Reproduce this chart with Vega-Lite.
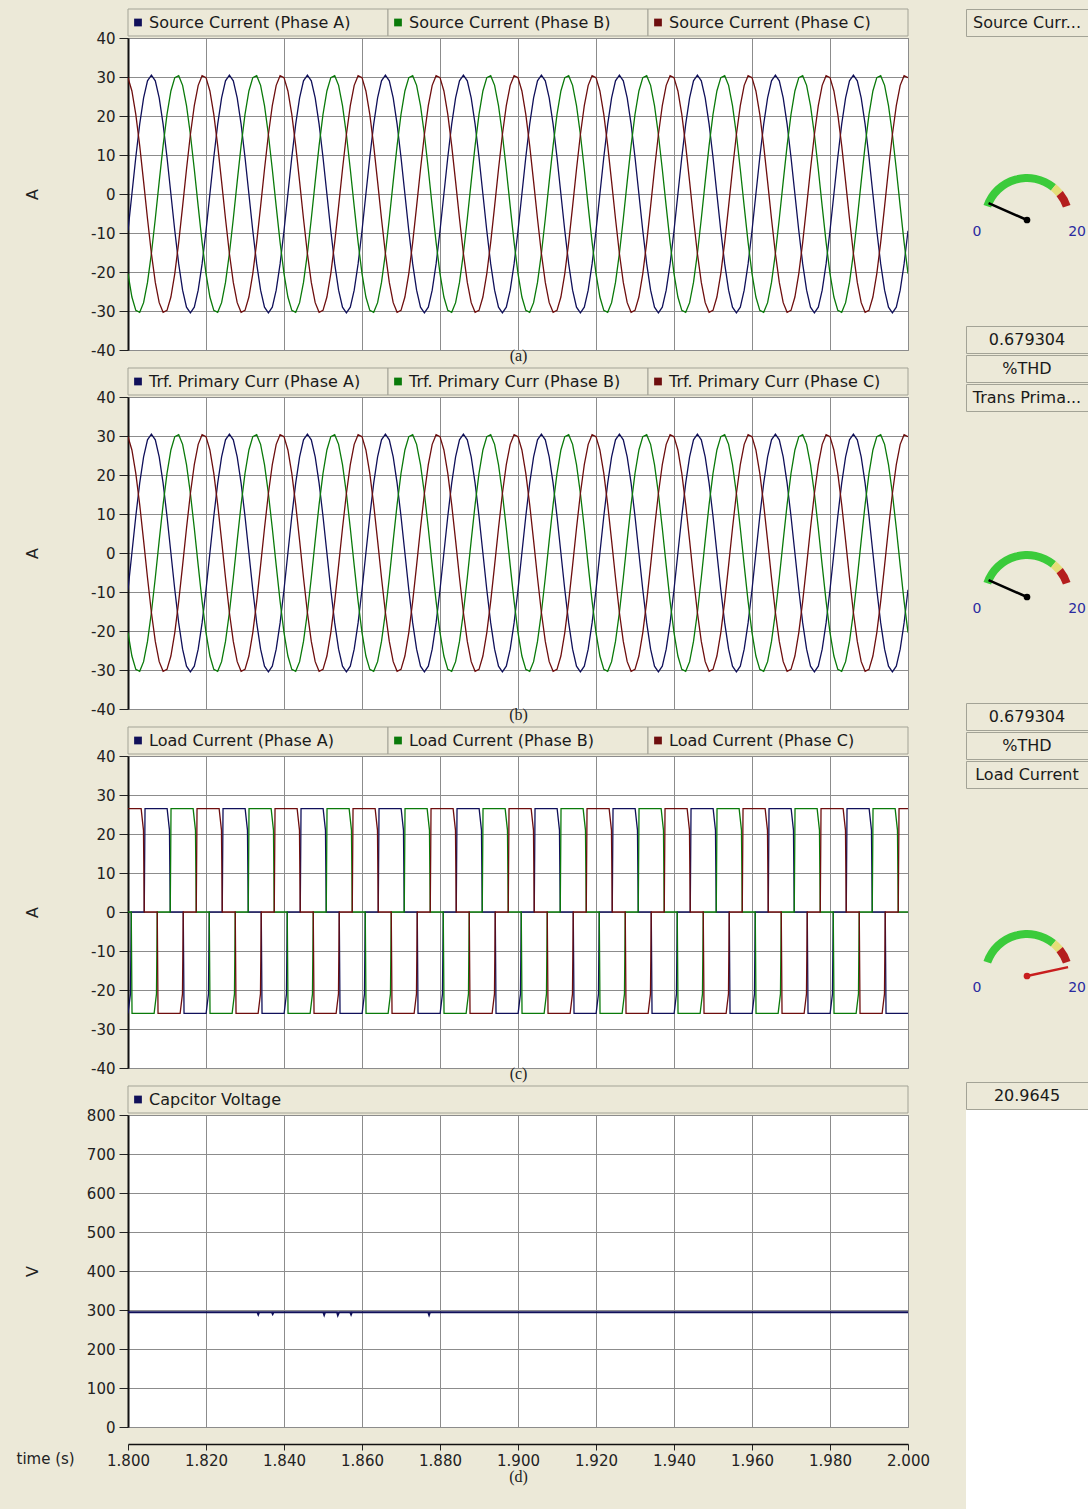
{
"$schema": "https://vega.github.io/schema/vega-lite/v6.json",
"background": "#ECE9D8",
"padding": {"left": 15, "top": 8, "right": 1, "bottom": 0},
"config": {
 "font": "DejaVu Sans",
 "view": {"stroke": "#8C8C8C", "strokeWidth": 1, "fill": "#FFFFFF"},
 "axis": {"labelFont": "DejaVu Sans", "labelFontSize": 15, "labelColor": "#222222", "titleFont": "DejaVu Sans", "titleFontSize": 16, "titleFontWeight": "normal", "titleColor": "#222222", "gridColor": "#8C8C8C", "gridOpacity": 1, "gridWidth": 1, "domainColor": "#111111", "tickColor": "#222222", "labelOverlap": false},
 "concat": {"spacing": 0}
},
"datasets": {
"src": [
{"t":1.800,"A":-9.42,"B":-20.41,"C":29.83},{"t":1.801,"A":0,"B":-26.41,"C":26.41},{"t":1.802,"A":9.42,"B":-29.83,"C":20.41},{"t":1.803,"A":17.93,"B":-30.33,"C":12.41},{"t":1.804,"A":24.67,"B":-27.86,"C":3.19},{"t":1.805,"A":29.01,"B":-22.67,"C":-6.34},{"t":1.806,"A":30.5,"B":-15.25,"C":-15.25},{"t":1.807,"A":29.01,"B":-6.34,"C":-22.67},{"t":1.808,"A":24.67,"B":3.19,"C":-27.86},{"t":1.809,"A":17.93,"B":12.41,"C":-30.33},{"t":1.810,"A":9.42,"B":20.41,"C":-29.83},{"t":1.811,"A":0,"B":26.41,"C":-26.41},{"t":1.812,"A":-9.42,"B":29.83,"C":-20.41},{"t":1.813,"A":-17.93,"B":30.33,"C":-12.41},{"t":1.814,"A":-24.67,"B":27.86,"C":-3.19},{"t":1.815,"A":-29.01,"B":22.67,"C":6.34},{"t":1.816,"A":-30.5,"B":15.25,"C":15.25},{"t":1.817,"A":-29.01,"B":6.34,"C":22.67},{"t":1.818,"A":-24.67,"B":-3.19,"C":27.86},{"t":1.819,"A":-17.93,"B":-12.41,"C":30.33},
{"t":1.820,"A":-9.42,"B":-20.41,"C":29.83},{"t":1.821,"A":0,"B":-26.41,"C":26.41},{"t":1.822,"A":9.42,"B":-29.83,"C":20.41},{"t":1.823,"A":17.93,"B":-30.33,"C":12.41},{"t":1.824,"A":24.67,"B":-27.86,"C":3.19},{"t":1.825,"A":29.01,"B":-22.67,"C":-6.34},{"t":1.826,"A":30.5,"B":-15.25,"C":-15.25},{"t":1.827,"A":29.01,"B":-6.34,"C":-22.67},{"t":1.828,"A":24.67,"B":3.19,"C":-27.86},{"t":1.829,"A":17.93,"B":12.41,"C":-30.33},{"t":1.830,"A":9.42,"B":20.41,"C":-29.83},{"t":1.831,"A":0,"B":26.41,"C":-26.41},{"t":1.832,"A":-9.42,"B":29.83,"C":-20.41},{"t":1.833,"A":-17.93,"B":30.33,"C":-12.41},{"t":1.834,"A":-24.67,"B":27.86,"C":-3.19},{"t":1.835,"A":-29.01,"B":22.67,"C":6.34},{"t":1.836,"A":-30.5,"B":15.25,"C":15.25},{"t":1.837,"A":-29.01,"B":6.34,"C":22.67},{"t":1.838,"A":-24.67,"B":-3.19,"C":27.86},{"t":1.839,"A":-17.93,"B":-12.41,"C":30.33},
{"t":1.840,"A":-9.42,"B":-20.41,"C":29.83},{"t":1.841,"A":0,"B":-26.41,"C":26.41},{"t":1.842,"A":9.42,"B":-29.83,"C":20.41},{"t":1.843,"A":17.93,"B":-30.33,"C":12.41},{"t":1.844,"A":24.67,"B":-27.86,"C":3.19},{"t":1.845,"A":29.01,"B":-22.67,"C":-6.34},{"t":1.846,"A":30.5,"B":-15.25,"C":-15.25},{"t":1.847,"A":29.01,"B":-6.34,"C":-22.67},{"t":1.848,"A":24.67,"B":3.19,"C":-27.86},{"t":1.849,"A":17.93,"B":12.41,"C":-30.33},{"t":1.850,"A":9.42,"B":20.41,"C":-29.83},{"t":1.851,"A":0,"B":26.41,"C":-26.41},{"t":1.852,"A":-9.42,"B":29.83,"C":-20.41},{"t":1.853,"A":-17.93,"B":30.33,"C":-12.41},{"t":1.854,"A":-24.67,"B":27.86,"C":-3.19},{"t":1.855,"A":-29.01,"B":22.67,"C":6.34},{"t":1.856,"A":-30.5,"B":15.25,"C":15.25},{"t":1.857,"A":-29.01,"B":6.34,"C":22.67},{"t":1.858,"A":-24.67,"B":-3.19,"C":27.86},{"t":1.859,"A":-17.93,"B":-12.41,"C":30.33},
{"t":1.860,"A":-9.42,"B":-20.41,"C":29.83},{"t":1.861,"A":0,"B":-26.41,"C":26.41},{"t":1.862,"A":9.42,"B":-29.83,"C":20.41},{"t":1.863,"A":17.93,"B":-30.33,"C":12.41},{"t":1.864,"A":24.67,"B":-27.86,"C":3.19},{"t":1.865,"A":29.01,"B":-22.67,"C":-6.34},{"t":1.866,"A":30.5,"B":-15.25,"C":-15.25},{"t":1.867,"A":29.01,"B":-6.34,"C":-22.67},{"t":1.868,"A":24.67,"B":3.19,"C":-27.86},{"t":1.869,"A":17.93,"B":12.41,"C":-30.33},{"t":1.870,"A":9.42,"B":20.41,"C":-29.83},{"t":1.871,"A":0,"B":26.41,"C":-26.41},{"t":1.872,"A":-9.42,"B":29.83,"C":-20.41},{"t":1.873,"A":-17.93,"B":30.33,"C":-12.41},{"t":1.874,"A":-24.67,"B":27.86,"C":-3.19},{"t":1.875,"A":-29.01,"B":22.67,"C":6.34},{"t":1.876,"A":-30.5,"B":15.25,"C":15.25},{"t":1.877,"A":-29.01,"B":6.34,"C":22.67},{"t":1.878,"A":-24.67,"B":-3.19,"C":27.86},{"t":1.879,"A":-17.93,"B":-12.41,"C":30.33},
{"t":1.880,"A":-9.42,"B":-20.41,"C":29.83},{"t":1.881,"A":0,"B":-26.41,"C":26.41},{"t":1.882,"A":9.42,"B":-29.83,"C":20.41},{"t":1.883,"A":17.93,"B":-30.33,"C":12.41},{"t":1.884,"A":24.67,"B":-27.86,"C":3.19},{"t":1.885,"A":29.01,"B":-22.67,"C":-6.34},{"t":1.886,"A":30.5,"B":-15.25,"C":-15.25},{"t":1.887,"A":29.01,"B":-6.34,"C":-22.67},{"t":1.888,"A":24.67,"B":3.19,"C":-27.86},{"t":1.889,"A":17.93,"B":12.41,"C":-30.33},{"t":1.890,"A":9.42,"B":20.41,"C":-29.83},{"t":1.891,"A":0,"B":26.41,"C":-26.41},{"t":1.892,"A":-9.42,"B":29.83,"C":-20.41},{"t":1.893,"A":-17.93,"B":30.33,"C":-12.41},{"t":1.894,"A":-24.67,"B":27.86,"C":-3.19},{"t":1.895,"A":-29.01,"B":22.67,"C":6.34},{"t":1.896,"A":-30.5,"B":15.25,"C":15.25},{"t":1.897,"A":-29.01,"B":6.34,"C":22.67},{"t":1.898,"A":-24.67,"B":-3.19,"C":27.86},{"t":1.899,"A":-17.93,"B":-12.41,"C":30.33},
{"t":1.900,"A":-9.42,"B":-20.41,"C":29.83},{"t":1.901,"A":0,"B":-26.41,"C":26.41},{"t":1.902,"A":9.42,"B":-29.83,"C":20.41},{"t":1.903,"A":17.93,"B":-30.33,"C":12.41},{"t":1.904,"A":24.67,"B":-27.86,"C":3.19},{"t":1.905,"A":29.01,"B":-22.67,"C":-6.34},{"t":1.906,"A":30.5,"B":-15.25,"C":-15.25},{"t":1.907,"A":29.01,"B":-6.34,"C":-22.67},{"t":1.908,"A":24.67,"B":3.19,"C":-27.86},{"t":1.909,"A":17.93,"B":12.41,"C":-30.33},{"t":1.910,"A":9.42,"B":20.41,"C":-29.83},{"t":1.911,"A":0,"B":26.41,"C":-26.41},{"t":1.912,"A":-9.42,"B":29.83,"C":-20.41},{"t":1.913,"A":-17.93,"B":30.33,"C":-12.41},{"t":1.914,"A":-24.67,"B":27.86,"C":-3.19},{"t":1.915,"A":-29.01,"B":22.67,"C":6.34},{"t":1.916,"A":-30.5,"B":15.25,"C":15.25},{"t":1.917,"A":-29.01,"B":6.34,"C":22.67},{"t":1.918,"A":-24.67,"B":-3.19,"C":27.86},{"t":1.919,"A":-17.93,"B":-12.41,"C":30.33},
{"t":1.920,"A":-9.42,"B":-20.41,"C":29.83},{"t":1.921,"A":0,"B":-26.41,"C":26.41},{"t":1.922,"A":9.42,"B":-29.83,"C":20.41},{"t":1.923,"A":17.93,"B":-30.33,"C":12.41},{"t":1.924,"A":24.67,"B":-27.86,"C":3.19},{"t":1.925,"A":29.01,"B":-22.67,"C":-6.34},{"t":1.926,"A":30.5,"B":-15.25,"C":-15.25},{"t":1.927,"A":29.01,"B":-6.34,"C":-22.67},{"t":1.928,"A":24.67,"B":3.19,"C":-27.86},{"t":1.929,"A":17.93,"B":12.41,"C":-30.33},{"t":1.930,"A":9.42,"B":20.41,"C":-29.83},{"t":1.931,"A":0,"B":26.41,"C":-26.41},{"t":1.932,"A":-9.42,"B":29.83,"C":-20.41},{"t":1.933,"A":-17.93,"B":30.33,"C":-12.41},{"t":1.934,"A":-24.67,"B":27.86,"C":-3.19},{"t":1.935,"A":-29.01,"B":22.67,"C":6.34},{"t":1.936,"A":-30.5,"B":15.25,"C":15.25},{"t":1.937,"A":-29.01,"B":6.34,"C":22.67},{"t":1.938,"A":-24.67,"B":-3.19,"C":27.86},{"t":1.939,"A":-17.93,"B":-12.41,"C":30.33},
{"t":1.940,"A":-9.42,"B":-20.41,"C":29.83},{"t":1.941,"A":0,"B":-26.41,"C":26.41},{"t":1.942,"A":9.42,"B":-29.83,"C":20.41},{"t":1.943,"A":17.93,"B":-30.33,"C":12.41},{"t":1.944,"A":24.67,"B":-27.86,"C":3.19},{"t":1.945,"A":29.01,"B":-22.67,"C":-6.34},{"t":1.946,"A":30.5,"B":-15.25,"C":-15.25},{"t":1.947,"A":29.01,"B":-6.34,"C":-22.67},{"t":1.948,"A":24.67,"B":3.19,"C":-27.86},{"t":1.949,"A":17.93,"B":12.41,"C":-30.33},{"t":1.950,"A":9.42,"B":20.41,"C":-29.83},{"t":1.951,"A":0,"B":26.41,"C":-26.41},{"t":1.952,"A":-9.42,"B":29.83,"C":-20.41},{"t":1.953,"A":-17.93,"B":30.33,"C":-12.41},{"t":1.954,"A":-24.67,"B":27.86,"C":-3.19},{"t":1.955,"A":-29.01,"B":22.67,"C":6.34},{"t":1.956,"A":-30.5,"B":15.25,"C":15.25},{"t":1.957,"A":-29.01,"B":6.34,"C":22.67},{"t":1.958,"A":-24.67,"B":-3.19,"C":27.86},{"t":1.959,"A":-17.93,"B":-12.41,"C":30.33},
{"t":1.960,"A":-9.42,"B":-20.41,"C":29.83},{"t":1.961,"A":0,"B":-26.41,"C":26.41},{"t":1.962,"A":9.42,"B":-29.83,"C":20.41},{"t":1.963,"A":17.93,"B":-30.33,"C":12.41},{"t":1.964,"A":24.67,"B":-27.86,"C":3.19},{"t":1.965,"A":29.01,"B":-22.67,"C":-6.34},{"t":1.966,"A":30.5,"B":-15.25,"C":-15.25},{"t":1.967,"A":29.01,"B":-6.34,"C":-22.67},{"t":1.968,"A":24.67,"B":3.19,"C":-27.86},{"t":1.969,"A":17.93,"B":12.41,"C":-30.33},{"t":1.970,"A":9.42,"B":20.41,"C":-29.83},{"t":1.971,"A":0,"B":26.41,"C":-26.41},{"t":1.972,"A":-9.42,"B":29.83,"C":-20.41},{"t":1.973,"A":-17.93,"B":30.33,"C":-12.41},{"t":1.974,"A":-24.67,"B":27.86,"C":-3.19},{"t":1.975,"A":-29.01,"B":22.67,"C":6.34},{"t":1.976,"A":-30.5,"B":15.25,"C":15.25},{"t":1.977,"A":-29.01,"B":6.34,"C":22.67},{"t":1.978,"A":-24.67,"B":-3.19,"C":27.86},{"t":1.979,"A":-17.93,"B":-12.41,"C":30.33},
{"t":1.980,"A":-9.42,"B":-20.41,"C":29.83},{"t":1.981,"A":0,"B":-26.41,"C":26.41},{"t":1.982,"A":9.42,"B":-29.83,"C":20.41},{"t":1.983,"A":17.93,"B":-30.33,"C":12.41},{"t":1.984,"A":24.67,"B":-27.86,"C":3.19},{"t":1.985,"A":29.01,"B":-22.67,"C":-6.34},{"t":1.986,"A":30.5,"B":-15.25,"C":-15.25},{"t":1.987,"A":29.01,"B":-6.34,"C":-22.67},{"t":1.988,"A":24.67,"B":3.19,"C":-27.86},{"t":1.989,"A":17.93,"B":12.41,"C":-30.33},{"t":1.990,"A":9.42,"B":20.41,"C":-29.83},{"t":1.991,"A":0,"B":26.41,"C":-26.41},{"t":1.992,"A":-9.42,"B":29.83,"C":-20.41},{"t":1.993,"A":-17.93,"B":30.33,"C":-12.41},{"t":1.994,"A":-24.67,"B":27.86,"C":-3.19},{"t":1.995,"A":-29.01,"B":22.67,"C":6.34},{"t":1.996,"A":-30.5,"B":15.25,"C":15.25},{"t":1.997,"A":-29.01,"B":6.34,"C":22.67},{"t":1.998,"A":-24.67,"B":-3.19,"C":27.86},{"t":1.999,"A":-17.93,"B":-12.41,"C":30.33},
{"t":2.000,"A":-9.42,"B":-20.41,"C":29.83}
],
"load": [
{"t":1.8,"p":"A","v":-26},{"t":1.800633,"p":"A","v":-21},{"t":1.800833,"p":"A","v":0},
{"t":1.804167,"p":"A","v":0},{"t":1.804367,"p":"A","v":26.5},{"t":1.810033,"p":"A","v":26.5},{"t":1.810633,"p":"A","v":21},{"t":1.810833,"p":"A","v":0},{"t":1.814167,"p":"A","v":0},{"t":1.814367,"p":"A","v":-26},{"t":1.820033,"p":"A","v":-26},{"t":1.820633,"p":"A","v":-21},{"t":1.820833,"p":"A","v":0},
{"t":1.824167,"p":"A","v":0},{"t":1.824367,"p":"A","v":26.5},{"t":1.830033,"p":"A","v":26.5},{"t":1.830633,"p":"A","v":21},{"t":1.830833,"p":"A","v":0},{"t":1.834167,"p":"A","v":0},{"t":1.834367,"p":"A","v":-26},{"t":1.840033,"p":"A","v":-26},{"t":1.840633,"p":"A","v":-21},{"t":1.840833,"p":"A","v":0},
{"t":1.844167,"p":"A","v":0},{"t":1.844367,"p":"A","v":26.5},{"t":1.850033,"p":"A","v":26.5},{"t":1.850633,"p":"A","v":21},{"t":1.850833,"p":"A","v":0},{"t":1.854167,"p":"A","v":0},{"t":1.854367,"p":"A","v":-26},{"t":1.860033,"p":"A","v":-26},{"t":1.860633,"p":"A","v":-21},{"t":1.860833,"p":"A","v":0},
{"t":1.864167,"p":"A","v":0},{"t":1.864367,"p":"A","v":26.5},{"t":1.870033,"p":"A","v":26.5},{"t":1.870633,"p":"A","v":21},{"t":1.870833,"p":"A","v":0},{"t":1.874167,"p":"A","v":0},{"t":1.874367,"p":"A","v":-26},{"t":1.880033,"p":"A","v":-26},{"t":1.880633,"p":"A","v":-21},{"t":1.880833,"p":"A","v":0},
{"t":1.884167,"p":"A","v":0},{"t":1.884367,"p":"A","v":26.5},{"t":1.890033,"p":"A","v":26.5},{"t":1.890633,"p":"A","v":21},{"t":1.890833,"p":"A","v":0},{"t":1.894167,"p":"A","v":0},{"t":1.894367,"p":"A","v":-26},{"t":1.900033,"p":"A","v":-26},{"t":1.900633,"p":"A","v":-21},{"t":1.900833,"p":"A","v":0},
{"t":1.904167,"p":"A","v":0},{"t":1.904367,"p":"A","v":26.5},{"t":1.910033,"p":"A","v":26.5},{"t":1.910633,"p":"A","v":21},{"t":1.910833,"p":"A","v":0},{"t":1.914167,"p":"A","v":0},{"t":1.914367,"p":"A","v":-26},{"t":1.920033,"p":"A","v":-26},{"t":1.920633,"p":"A","v":-21},{"t":1.920833,"p":"A","v":0},
{"t":1.924167,"p":"A","v":0},{"t":1.924367,"p":"A","v":26.5},{"t":1.930033,"p":"A","v":26.5},{"t":1.930633,"p":"A","v":21},{"t":1.930833,"p":"A","v":0},{"t":1.934167,"p":"A","v":0},{"t":1.934367,"p":"A","v":-26},{"t":1.940033,"p":"A","v":-26},{"t":1.940633,"p":"A","v":-21},{"t":1.940833,"p":"A","v":0},
{"t":1.944167,"p":"A","v":0},{"t":1.944367,"p":"A","v":26.5},{"t":1.950033,"p":"A","v":26.5},{"t":1.950633,"p":"A","v":21},{"t":1.950833,"p":"A","v":0},{"t":1.954167,"p":"A","v":0},{"t":1.954367,"p":"A","v":-26},{"t":1.960033,"p":"A","v":-26},{"t":1.960633,"p":"A","v":-21},{"t":1.960833,"p":"A","v":0},
{"t":1.964167,"p":"A","v":0},{"t":1.964367,"p":"A","v":26.5},{"t":1.970033,"p":"A","v":26.5},{"t":1.970633,"p":"A","v":21},{"t":1.970833,"p":"A","v":0},{"t":1.974167,"p":"A","v":0},{"t":1.974367,"p":"A","v":-26},{"t":1.980033,"p":"A","v":-26},{"t":1.980633,"p":"A","v":-21},{"t":1.980833,"p":"A","v":0},
{"t":1.984167,"p":"A","v":0},{"t":1.984367,"p":"A","v":26.5},{"t":1.990033,"p":"A","v":26.5},{"t":1.990633,"p":"A","v":21},{"t":1.990833,"p":"A","v":0},{"t":1.994167,"p":"A","v":0},{"t":1.994367,"p":"A","v":-26},{"t":2.0,"p":"A","v":-26},
{"t":1.8,"p":"B","v":0},
{"t":1.800833,"p":"B","v":0},{"t":1.801033,"p":"B","v":-26},{"t":1.8067,"p":"B","v":-26},{"t":1.8073,"p":"B","v":-21},{"t":1.8075,"p":"B","v":0},{"t":1.810833,"p":"B","v":0},{"t":1.811033,"p":"B","v":26.5},{"t":1.8167,"p":"B","v":26.5},{"t":1.8173,"p":"B","v":21},{"t":1.8175,"p":"B","v":0},
{"t":1.820833,"p":"B","v":0},{"t":1.821033,"p":"B","v":-26},{"t":1.8267,"p":"B","v":-26},{"t":1.8273,"p":"B","v":-21},{"t":1.8275,"p":"B","v":0},{"t":1.830833,"p":"B","v":0},{"t":1.831033,"p":"B","v":26.5},{"t":1.8367,"p":"B","v":26.5},{"t":1.8373,"p":"B","v":21},{"t":1.8375,"p":"B","v":0},
{"t":1.840833,"p":"B","v":0},{"t":1.841033,"p":"B","v":-26},{"t":1.8467,"p":"B","v":-26},{"t":1.8473,"p":"B","v":-21},{"t":1.8475,"p":"B","v":0},{"t":1.850833,"p":"B","v":0},{"t":1.851033,"p":"B","v":26.5},{"t":1.8567,"p":"B","v":26.5},{"t":1.8573,"p":"B","v":21},{"t":1.8575,"p":"B","v":0},
{"t":1.860833,"p":"B","v":0},{"t":1.861033,"p":"B","v":-26},{"t":1.8667,"p":"B","v":-26},{"t":1.8673,"p":"B","v":-21},{"t":1.8675,"p":"B","v":0},{"t":1.870833,"p":"B","v":0},{"t":1.871033,"p":"B","v":26.5},{"t":1.8767,"p":"B","v":26.5},{"t":1.8773,"p":"B","v":21},{"t":1.8775,"p":"B","v":0},
{"t":1.880833,"p":"B","v":0},{"t":1.881033,"p":"B","v":-26},{"t":1.8867,"p":"B","v":-26},{"t":1.8873,"p":"B","v":-21},{"t":1.8875,"p":"B","v":0},{"t":1.890833,"p":"B","v":0},{"t":1.891033,"p":"B","v":26.5},{"t":1.8967,"p":"B","v":26.5},{"t":1.8973,"p":"B","v":21},{"t":1.8975,"p":"B","v":0},
{"t":1.900833,"p":"B","v":0},{"t":1.901033,"p":"B","v":-26},{"t":1.9067,"p":"B","v":-26},{"t":1.9073,"p":"B","v":-21},{"t":1.9075,"p":"B","v":0},{"t":1.910833,"p":"B","v":0},{"t":1.911033,"p":"B","v":26.5},{"t":1.9167,"p":"B","v":26.5},{"t":1.9173,"p":"B","v":21},{"t":1.9175,"p":"B","v":0},
{"t":1.920833,"p":"B","v":0},{"t":1.921033,"p":"B","v":-26},{"t":1.9267,"p":"B","v":-26},{"t":1.9273,"p":"B","v":-21},{"t":1.9275,"p":"B","v":0},{"t":1.930833,"p":"B","v":0},{"t":1.931033,"p":"B","v":26.5},{"t":1.9367,"p":"B","v":26.5},{"t":1.9373,"p":"B","v":21},{"t":1.9375,"p":"B","v":0},
{"t":1.940833,"p":"B","v":0},{"t":1.941033,"p":"B","v":-26},{"t":1.9467,"p":"B","v":-26},{"t":1.9473,"p":"B","v":-21},{"t":1.9475,"p":"B","v":0},{"t":1.950833,"p":"B","v":0},{"t":1.951033,"p":"B","v":26.5},{"t":1.9567,"p":"B","v":26.5},{"t":1.9573,"p":"B","v":21},{"t":1.9575,"p":"B","v":0},
{"t":1.960833,"p":"B","v":0},{"t":1.961033,"p":"B","v":-26},{"t":1.9667,"p":"B","v":-26},{"t":1.9673,"p":"B","v":-21},{"t":1.9675,"p":"B","v":0},{"t":1.970833,"p":"B","v":0},{"t":1.971033,"p":"B","v":26.5},{"t":1.9767,"p":"B","v":26.5},{"t":1.9773,"p":"B","v":21},{"t":1.9775,"p":"B","v":0},
{"t":1.980833,"p":"B","v":0},{"t":1.981033,"p":"B","v":-26},{"t":1.9867,"p":"B","v":-26},{"t":1.9873,"p":"B","v":-21},{"t":1.9875,"p":"B","v":0},{"t":1.990833,"p":"B","v":0},{"t":1.991033,"p":"B","v":26.5},{"t":1.9967,"p":"B","v":26.5},{"t":1.9973,"p":"B","v":21},{"t":1.9975,"p":"B","v":0},
{"t":2.0,"p":"B","v":0},
{"t":1.8,"p":"C","v":26.5},
{"t":1.803367,"p":"C","v":26.5},{"t":1.803967,"p":"C","v":21},{"t":1.804167,"p":"C","v":0},{"t":1.8075,"p":"C","v":0},{"t":1.8077,"p":"C","v":-26},{"t":1.813367,"p":"C","v":-26},{"t":1.813967,"p":"C","v":-21},{"t":1.814167,"p":"C","v":0},{"t":1.8175,"p":"C","v":0},{"t":1.8177,"p":"C","v":26.5},
{"t":1.823367,"p":"C","v":26.5},{"t":1.823967,"p":"C","v":21},{"t":1.824167,"p":"C","v":0},{"t":1.8275,"p":"C","v":0},{"t":1.8277,"p":"C","v":-26},{"t":1.833367,"p":"C","v":-26},{"t":1.833967,"p":"C","v":-21},{"t":1.834167,"p":"C","v":0},{"t":1.8375,"p":"C","v":0},{"t":1.8377,"p":"C","v":26.5},
{"t":1.843367,"p":"C","v":26.5},{"t":1.843967,"p":"C","v":21},{"t":1.844167,"p":"C","v":0},{"t":1.8475,"p":"C","v":0},{"t":1.8477,"p":"C","v":-26},{"t":1.853367,"p":"C","v":-26},{"t":1.853967,"p":"C","v":-21},{"t":1.854167,"p":"C","v":0},{"t":1.8575,"p":"C","v":0},{"t":1.8577,"p":"C","v":26.5},
{"t":1.863367,"p":"C","v":26.5},{"t":1.863967,"p":"C","v":21},{"t":1.864167,"p":"C","v":0},{"t":1.8675,"p":"C","v":0},{"t":1.8677,"p":"C","v":-26},{"t":1.873367,"p":"C","v":-26},{"t":1.873967,"p":"C","v":-21},{"t":1.874167,"p":"C","v":0},{"t":1.8775,"p":"C","v":0},{"t":1.8777,"p":"C","v":26.5},
{"t":1.883367,"p":"C","v":26.5},{"t":1.883967,"p":"C","v":21},{"t":1.884167,"p":"C","v":0},{"t":1.8875,"p":"C","v":0},{"t":1.8877,"p":"C","v":-26},{"t":1.893367,"p":"C","v":-26},{"t":1.893967,"p":"C","v":-21},{"t":1.894167,"p":"C","v":0},{"t":1.8975,"p":"C","v":0},{"t":1.8977,"p":"C","v":26.5},
{"t":1.903367,"p":"C","v":26.5},{"t":1.903967,"p":"C","v":21},{"t":1.904167,"p":"C","v":0},{"t":1.9075,"p":"C","v":0},{"t":1.9077,"p":"C","v":-26},{"t":1.913367,"p":"C","v":-26},{"t":1.913967,"p":"C","v":-21},{"t":1.914167,"p":"C","v":0},{"t":1.9175,"p":"C","v":0},{"t":1.9177,"p":"C","v":26.5},
{"t":1.923367,"p":"C","v":26.5},{"t":1.923967,"p":"C","v":21},{"t":1.924167,"p":"C","v":0},{"t":1.9275,"p":"C","v":0},{"t":1.9277,"p":"C","v":-26},{"t":1.933367,"p":"C","v":-26},{"t":1.933967,"p":"C","v":-21},{"t":1.934167,"p":"C","v":0},{"t":1.9375,"p":"C","v":0},{"t":1.9377,"p":"C","v":26.5},
{"t":1.943367,"p":"C","v":26.5},{"t":1.943967,"p":"C","v":21},{"t":1.944167,"p":"C","v":0},{"t":1.9475,"p":"C","v":0},{"t":1.9477,"p":"C","v":-26},{"t":1.953367,"p":"C","v":-26},{"t":1.953967,"p":"C","v":-21},{"t":1.954167,"p":"C","v":0},{"t":1.9575,"p":"C","v":0},{"t":1.9577,"p":"C","v":26.5},
{"t":1.963367,"p":"C","v":26.5},{"t":1.963967,"p":"C","v":21},{"t":1.964167,"p":"C","v":0},{"t":1.9675,"p":"C","v":0},{"t":1.9677,"p":"C","v":-26},{"t":1.973367,"p":"C","v":-26},{"t":1.973967,"p":"C","v":-21},{"t":1.974167,"p":"C","v":0},{"t":1.9775,"p":"C","v":0},{"t":1.9777,"p":"C","v":26.5},
{"t":1.983367,"p":"C","v":26.5},{"t":1.983967,"p":"C","v":21},{"t":1.984167,"p":"C","v":0},{"t":1.9875,"p":"C","v":0},{"t":1.9877,"p":"C","v":-26},{"t":1.993367,"p":"C","v":-26},{"t":1.993967,"p":"C","v":-21},{"t":1.994167,"p":"C","v":0},{"t":1.9975,"p":"C","v":0},{"t":1.9977,"p":"C","v":26.5},
{"t":2.0,"p":"C","v":26.5}
],
"cap": [
{"t":1.8,"v":294},{"t":1.8332,"v":294},{"t":1.8334,"v":289},{"t":1.8336,"v":294},{"t":1.8369,"v":294},{"t":1.8371,"v":290},{"t":1.8373,"v":294},{"t":1.8501,"v":294},{"t":1.8503,"v":288},{"t":1.8505,"v":294},{"t":1.8536,"v":294},{"t":1.8538,"v":287},{"t":1.8541,"v":294},{"t":1.857,"v":294},{"t":1.8572,"v":289},{"t":1.8574,"v":294},{"t":1.877,"v":294},{"t":1.8772,"v":288},{"t":1.8774,"v":294},{"t":2.0,"v":294}
]
},
"spacing": 35,
"hconcat": [
{"vconcat": [
 {"vconcat": [
  {"width": 780, "height": 27, "view": {"stroke": null, "fill": null},
   "data": {"values": [{"l": "Source Current (Phase A)", "p": "A"}, {"l": "Source Current (Phase B)", "p": "B"}, {"l": "Source Current (Phase C)", "p": "C"}]},
   "layer": [
    {"mark": {"type": "rect", "fill": "#ECE9D8", "stroke": "#A3A396", "strokeWidth": 1}, "encoding": {"x": {"field": "l", "type": "nominal", "sort": null, "scale": {"type": "band", "paddingInner": 0, "paddingOuter": 0}, "axis": null}}},
    {"mark": {"type": "point", "shape": "square", "filled": true, "size": 60, "opacity": 1, "xOffset": 10}, "encoding": {"x": {"field": "l", "type": "nominal", "sort": null, "bandPosition": 0, "axis": null}, "color": {"field": "p", "type": "nominal", "scale": {"domain": ["A", "B", "C"], "range": ["#10105A", "#0A7A0A", "#6E0E0E"]}, "legend": null}}},
    {"mark": {"type": "text", "align": "left", "dx": 21, "fontSize": 16, "color": "#1A1A1A"}, "encoding": {"x": {"field": "l", "type": "nominal", "sort": null, "bandPosition": 0, "axis": null}, "text": {"field": "l"}}}
   ]},
  {"width": 780, "height": 312, "data": {"name": "src"},
   "transform": [{"fold": ["A", "B", "C"], "as": ["p", "v"]}],
   "mark": {"type": "line", "strokeWidth": 1.3, "clip": true},
   "encoding": {
    "x": {"field": "t", "type": "quantitative", "scale": {"domain": [1.8, 2.0], "nice": false, "zero": false}, "axis": {"values": [1.8, 1.82, 1.84, 1.86, 1.88, 1.9, 1.92, 1.94, 1.96, 1.98, 2.0], "labels": false, "ticks": false, "domain": false, "grid": true, "title": "(a)", "titleFont": "Liberation Serif", "titleFontSize": 16, "titlePadding": -3}},
    "y": {"field": "v", "type": "quantitative", "scale": {"domain": [-40, 40], "nice": false}, "axis": {"values": [-40, -30, -20, -10, 0, 10, 20, 30, 40], "labelExpr": "replace(datum.label, '−', '-')", "title": "A", "titlePadding": 50, "tickSize": 9, "labelPadding": 4, "domainWidth": 2, "grid": true}},
    "color": {"field": "p", "type": "nominal", "scale": {"domain": ["A", "B", "C"], "range": ["#10105A", "#0A7A0A", "#6E0E0E"]}, "legend": null}
   }}
 ], "spacing": 2, "bounds": "flush"},
 {"vconcat": [
  {"width": 780, "height": 27, "view": {"stroke": null, "fill": null},
   "data": {"values": [{"l": "Trf. Primary Curr (Phase A)", "p": "A"}, {"l": "Trf. Primary Curr (Phase B)", "p": "B"}, {"l": "Trf. Primary Curr (Phase C)", "p": "C"}]},
   "layer": [
    {"mark": {"type": "rect", "fill": "#ECE9D8", "stroke": "#A3A396", "strokeWidth": 1}, "encoding": {"x": {"field": "l", "type": "nominal", "sort": null, "scale": {"type": "band", "paddingInner": 0, "paddingOuter": 0}, "axis": null}}},
    {"mark": {"type": "point", "shape": "square", "filled": true, "size": 60, "opacity": 1, "xOffset": 10}, "encoding": {"x": {"field": "l", "type": "nominal", "sort": null, "bandPosition": 0, "axis": null}, "color": {"field": "p", "type": "nominal", "scale": {"domain": ["A", "B", "C"], "range": ["#10105A", "#0A7A0A", "#6E0E0E"]}, "legend": null}}},
    {"mark": {"type": "text", "align": "left", "dx": 21, "fontSize": 16, "color": "#1A1A1A"}, "encoding": {"x": {"field": "l", "type": "nominal", "sort": null, "bandPosition": 0, "axis": null}, "text": {"field": "l"}}}
   ]},
  {"width": 780, "height": 312, "data": {"name": "src"},
   "transform": [{"fold": ["A", "B", "C"], "as": ["p", "v"]}],
   "mark": {"type": "line", "strokeWidth": 1.3, "clip": true},
   "encoding": {
    "x": {"field": "t", "type": "quantitative", "scale": {"domain": [1.8, 2.0], "nice": false, "zero": false}, "axis": {"values": [1.8, 1.82, 1.84, 1.86, 1.88, 1.9, 1.92, 1.94, 1.96, 1.98, 2.0], "labels": false, "ticks": false, "domain": false, "grid": true, "title": "(b)", "titleFont": "Liberation Serif", "titleFontSize": 16, "titlePadding": -3}},
    "y": {"field": "v", "type": "quantitative", "scale": {"domain": [-40, 40], "nice": false}, "axis": {"values": [-40, -30, -20, -10, 0, 10, 20, 30, 40], "labelExpr": "replace(datum.label, '−', '-')", "title": "A", "titlePadding": 50, "tickSize": 9, "labelPadding": 4, "domainWidth": 2, "grid": true}},
    "color": {"field": "p", "type": "nominal", "scale": {"domain": ["A", "B", "C"], "range": ["#10105A", "#0A7A0A", "#6E0E0E"]}, "legend": null}
   }}
 ], "spacing": 2, "bounds": "flush"},
 {"vconcat": [
  {"width": 780, "height": 27, "view": {"stroke": null, "fill": null},
   "data": {"values": [{"l": "Load Current (Phase A)", "p": "A"}, {"l": "Load Current (Phase B)", "p": "B"}, {"l": "Load Current (Phase C)", "p": "C"}]},
   "layer": [
    {"mark": {"type": "rect", "fill": "#ECE9D8", "stroke": "#A3A396", "strokeWidth": 1}, "encoding": {"x": {"field": "l", "type": "nominal", "sort": null, "scale": {"type": "band", "paddingInner": 0, "paddingOuter": 0}, "axis": null}}},
    {"mark": {"type": "point", "shape": "square", "filled": true, "size": 60, "opacity": 1, "xOffset": 10}, "encoding": {"x": {"field": "l", "type": "nominal", "sort": null, "bandPosition": 0, "axis": null}, "color": {"field": "p", "type": "nominal", "scale": {"domain": ["A", "B", "C"], "range": ["#10105A", "#0A7A0A", "#6E0E0E"]}, "legend": null}}},
    {"mark": {"type": "text", "align": "left", "dx": 21, "fontSize": 16, "color": "#1A1A1A"}, "encoding": {"x": {"field": "l", "type": "nominal", "sort": null, "bandPosition": 0, "axis": null}, "text": {"field": "l"}}}
   ]},
  {"width": 780, "height": 312, "data": {"name": "load"},
   "mark": {"type": "line", "strokeWidth": 1.3, "clip": true},
   "encoding": {
    "x": {"field": "t", "type": "quantitative", "scale": {"domain": [1.8, 2.0], "nice": false, "zero": false}, "axis": {"values": [1.8, 1.82, 1.84, 1.86, 1.88, 1.9, 1.92, 1.94, 1.96, 1.98, 2.0], "labels": false, "ticks": false, "domain": false, "grid": true, "title": "(c)", "titleFont": "Liberation Serif", "titleFontSize": 16, "titlePadding": -3}},
    "y": {"field": "v", "type": "quantitative", "scale": {"domain": [-40, 40], "nice": false}, "axis": {"values": [-40, -30, -20, -10, 0, 10, 20, 30, 40], "labelExpr": "replace(datum.label, '−', '-')", "title": "A", "titlePadding": 50, "tickSize": 9, "labelPadding": 4, "domainWidth": 2, "grid": true}},
    "color": {"field": "p", "type": "nominal", "scale": {"domain": ["A", "B", "C"], "range": ["#10105A", "#0A7A0A", "#6E0E0E"]}, "legend": null}
   }}
 ], "spacing": 2, "bounds": "flush"},
 {"vconcat": [
  {"width": 780, "height": 27, "view": {"stroke": null, "fill": null},
   "data": {"values": [{"l": "Capcitor Voltage", "p": "A"}]},
   "layer": [
    {"mark": {"type": "rect", "fill": "#ECE9D8", "stroke": "#A3A396", "strokeWidth": 1}, "encoding": {"x": {"field": "l", "type": "nominal", "sort": null, "scale": {"type": "band", "paddingInner": 0, "paddingOuter": 0}, "axis": null}}},
    {"mark": {"type": "point", "shape": "square", "filled": true, "size": 60, "opacity": 1, "xOffset": 10}, "encoding": {"x": {"field": "l", "type": "nominal", "sort": null, "bandPosition": 0, "axis": null}, "color": {"field": "p", "type": "nominal", "scale": {"domain": ["A", "B", "C"], "range": ["#10105A", "#0A7A0A", "#6E0E0E"]}, "legend": null}}},
    {"mark": {"type": "text", "align": "left", "dx": 21, "fontSize": 16, "color": "#1A1A1A"}, "encoding": {"x": {"field": "l", "type": "nominal", "sort": null, "bandPosition": 0, "axis": null}, "text": {"field": "l"}}}
   ]},
  {"width": 780, "height": 312, "data": {"name": "cap"},
   "layer": [
    {"mark": {"type": "line", "color": "#10105A", "strokeWidth": 2, "clip": true},
     "encoding": {
      "x": {"field": "t", "type": "quantitative", "scale": {"domain": [1.8, 2.0], "nice": false, "zero": false}, "axis": {"values": [1.8, 1.82, 1.84, 1.86, 1.88, 1.9, 1.92, 1.94, 1.96, 1.98, 2.0], "format": ".3f", "offset": 17, "tickSize": 6, "labelPadding": 3, "labelFlush": false, "domainWidth": 1.5, "grid": true, "title": "(d)", "titleFont": "Liberation Serif", "titleFontSize": 16, "titlePadding": 0}},
      "y": {"field": "v", "type": "quantitative", "scale": {"domain": [0, 800], "nice": false}, "axis": {"values": [0, 100, 200, 300, 400, 500, 600, 700, 800], "labelOverlap": false, "title": "V", "titlePadding": 46, "tickSize": 9, "labelPadding": 4, "domainWidth": 2, "grid": true}}
     }},
    {"mark": {"type": "rule", "opacity": 0},
     "encoding": {
      "x": {"field": "t", "type": "quantitative", "axis": {"orient": "bottom", "title": "time (s)", "labels": false, "ticks": false, "domain": false, "grid": false, "titleX": -112, "titleY": 36, "titleAlign": "left", "titleAnchor": "start", "titleBaseline": "alphabetic", "titleFontSize": 15}}
     }}
   ],
   "resolve": {"axis": {"x": "independent"}}}
 ], "spacing": 2, "bounds": "flush"}
], "spacing": 3},
{"vconcat": [
 {"width": 122, "height": 27, "view": {"fill": "#ECE9D8", "stroke": "#A3A396"}, "data": {"values": [{"s": "Source Curr..."}]}, "mark": {"type": "text", "fontSize": 16, "color": "#1A1A1A"}, "encoding": {"text": {"field": "s"}}},
 {"width": 122, "height": 78, "view": {"fill": null, "stroke": null}, "data": {"values": [{"s": ""}]}, "mark": {"type": "text"}, "encoding": {"text": {"field": "s"}}},
 {"width": 122, "height": 210, "view": {"stroke": null, "fill": null},
  "layer": [
   {"data": {"values": [{"s": 0, "e": 15.5}]}, "mark": {"type": "arc", "radius": 46, "radius2": 38, "color": "#3BCB3B"}, "encoding": {"theta": {"field": "s", "type": "quantitative", "stack": null, "scale": {"domain": [0, 20], "range": [-1.239, 1.239]}}, "theta2": {"field": "e"}}},
   {"data": {"values": [{"s": 15.5, "e": 17.2}]}, "mark": {"type": "arc", "radius": 46, "radius2": 38, "color": "#E4DE78"}, "encoding": {"theta": {"field": "s", "type": "quantitative", "stack": null}, "theta2": {"field": "e"}}},
   {"data": {"values": [{"s": 17.2, "e": 20}]}, "mark": {"type": "arc", "radius": 46, "radius2": 38, "color": "#B41E1E"}, "encoding": {"theta": {"field": "s", "type": "quantitative", "stack": null}, "theta2": {"field": "e"}}},
   {"data": {"values": [{"v": 0.679304}]}, "mark": {"type": "arc", "radius": 42, "radius2": 0, "stroke": "#000000", "strokeWidth": 2.5, "fill": "#000000"}, "encoding": {"theta": {"field": "v", "type": "quantitative", "stack": null}, "theta2": {"field": "v"}}},
   {"data": {"values": [{"v": 0.679304}]}, "mark": {"type": "point", "filled": true, "size": 45, "color": "#000000", "opacity": 1}},
   {"data": {"values": [{"lab": "0", "a": 0}, {"lab": "20", "a": 20}]}, "mark": {"type": "text", "radius": 53, "dy": 29, "fontSize": 14, "color": "#2A2AA0"}, "encoding": {"theta": {"field": "a", "type": "quantitative", "stack": null}, "text": {"field": "lab"}}}
  ]},
 {"width": 122, "height": 27, "view": {"fill": "#ECE9D8", "stroke": "#A3A396"}, "data": {"values": [{"s": "0.679304"}]}, "mark": {"type": "text", "fontSize": 16, "color": "#1A1A1A"}, "encoding": {"text": {"field": "s"}}},
 {"width": 122, "height": 27, "view": {"fill": "#ECE9D8", "stroke": "#A3A396"}, "data": {"values": [{"s": "%THD"}]}, "mark": {"type": "text", "fontSize": 16, "color": "#1A1A1A"}, "encoding": {"text": {"field": "s"}}},
 {"width": 122, "height": 27, "view": {"fill": "#ECE9D8", "stroke": "#A3A396"}, "data": {"values": [{"s": "Trans Prima..."}]}, "mark": {"type": "text", "fontSize": 16, "color": "#1A1A1A"}, "encoding": {"text": {"field": "s"}}},
 {"width": 122, "height": 80, "view": {"fill": null, "stroke": null}, "data": {"values": [{"s": ""}]}, "mark": {"type": "text"}, "encoding": {"text": {"field": "s"}}},
 {"width": 122, "height": 210, "view": {"stroke": null, "fill": null},
  "layer": [
   {"data": {"values": [{"s": 0, "e": 15.5}]}, "mark": {"type": "arc", "radius": 46, "radius2": 38, "color": "#3BCB3B"}, "encoding": {"theta": {"field": "s", "type": "quantitative", "stack": null, "scale": {"domain": [0, 20], "range": [-1.239, 1.239]}}, "theta2": {"field": "e"}}},
   {"data": {"values": [{"s": 15.5, "e": 17.2}]}, "mark": {"type": "arc", "radius": 46, "radius2": 38, "color": "#E4DE78"}, "encoding": {"theta": {"field": "s", "type": "quantitative", "stack": null}, "theta2": {"field": "e"}}},
   {"data": {"values": [{"s": 17.2, "e": 20}]}, "mark": {"type": "arc", "radius": 46, "radius2": 38, "color": "#B41E1E"}, "encoding": {"theta": {"field": "s", "type": "quantitative", "stack": null}, "theta2": {"field": "e"}}},
   {"data": {"values": [{"v": 0.679304}]}, "mark": {"type": "arc", "radius": 42, "radius2": 0, "stroke": "#000000", "strokeWidth": 2.5, "fill": "#000000"}, "encoding": {"theta": {"field": "v", "type": "quantitative", "stack": null}, "theta2": {"field": "v"}}},
   {"data": {"values": [{"v": 0.679304}]}, "mark": {"type": "point", "filled": true, "size": 45, "color": "#000000", "opacity": 1}},
   {"data": {"values": [{"lab": "0", "a": 0}, {"lab": "20", "a": 20}]}, "mark": {"type": "text", "radius": 53, "dy": 29, "fontSize": 14, "color": "#2A2AA0"}, "encoding": {"theta": {"field": "a", "type": "quantitative", "stack": null}, "text": {"field": "lab"}}}
  ]},
 {"width": 122, "height": 27, "view": {"fill": "#ECE9D8", "stroke": "#A3A396"}, "data": {"values": [{"s": "0.679304"}]}, "mark": {"type": "text", "fontSize": 16, "color": "#1A1A1A"}, "encoding": {"text": {"field": "s"}}},
 {"width": 122, "height": 27, "view": {"fill": "#ECE9D8", "stroke": "#A3A396"}, "data": {"values": [{"s": "%THD"}]}, "mark": {"type": "text", "fontSize": 16, "color": "#1A1A1A"}, "encoding": {"text": {"field": "s"}}},
 {"width": 122, "height": 27, "view": {"fill": "#ECE9D8", "stroke": "#A3A396"}, "data": {"values": [{"s": "Load Current"}]}, "mark": {"type": "text", "fontSize": 16, "color": "#1A1A1A"}, "encoding": {"text": {"field": "s"}}},
 {"width": 122, "height": 82, "view": {"fill": null, "stroke": null}, "data": {"values": [{"s": ""}]}, "mark": {"type": "text"}, "encoding": {"text": {"field": "s"}}},
 {"width": 122, "height": 210, "view": {"stroke": null, "fill": null},
  "layer": [
   {"data": {"values": [{"s": 0, "e": 15.5}]}, "mark": {"type": "arc", "radius": 46, "radius2": 38, "color": "#3BCB3B"}, "encoding": {"theta": {"field": "s", "type": "quantitative", "stack": null, "scale": {"domain": [0, 20], "range": [-1.239, 1.239]}}, "theta2": {"field": "e"}}},
   {"data": {"values": [{"s": 15.5, "e": 17.2}]}, "mark": {"type": "arc", "radius": 46, "radius2": 38, "color": "#E4DE78"}, "encoding": {"theta": {"field": "s", "type": "quantitative", "stack": null}, "theta2": {"field": "e"}}},
   {"data": {"values": [{"s": 17.2, "e": 20}]}, "mark": {"type": "arc", "radius": 46, "radius2": 38, "color": "#B41E1E"}, "encoding": {"theta": {"field": "s", "type": "quantitative", "stack": null}, "theta2": {"field": "e"}}},
   {"data": {"values": [{"v": 20.9645}]}, "mark": {"type": "arc", "radius": 42, "radius2": 0, "stroke": "#C81E1E", "strokeWidth": 2.5, "fill": "#C81E1E"}, "encoding": {"theta": {"field": "v", "type": "quantitative", "stack": null}, "theta2": {"field": "v"}}},
   {"data": {"values": [{"v": 20.9645}]}, "mark": {"type": "point", "filled": true, "size": 45, "color": "#C81E1E", "opacity": 1}},
   {"data": {"values": [{"lab": "0", "a": 0}, {"lab": "20", "a": 20}]}, "mark": {"type": "text", "radius": 53, "dy": 29, "fontSize": 14, "color": "#2A2AA0"}, "encoding": {"theta": {"field": "a", "type": "quantitative", "stack": null}, "text": {"field": "lab"}}}
  ]},
 {"width": 122, "height": 27, "view": {"fill": "#ECE9D8", "stroke": "#A3A396"}, "data": {"values": [{"s": "20.9645"}]}, "mark": {"type": "text", "fontSize": 16, "color": "#1A1A1A"}, "encoding": {"text": {"field": "s"}}},
 {"width": 122, "height": 399, "view": {"fill": "#FFFFFF", "stroke": null}, "data": {"values": [{"s": ""}]}, "mark": {"type": "text"}, "encoding": {"text": {"field": "s"}}}
], "spacing": 0}
]
}
